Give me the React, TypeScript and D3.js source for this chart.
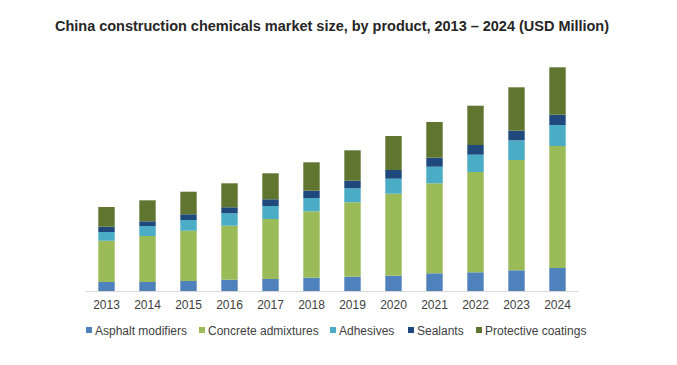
import * as d3 from 'd3';

const years = ['2013', '2014', '2015', '2016', '2017', '2018', '2019', '2020', '2021', '2022', '2023', '2024'];
const productKeys = ['asphalt', 'concrete', 'adhesives', 'sealants', 'protective'];
const productLabels = ['Asphalt modifiers', 'Concrete admixtures', 'Adhesives', 'Sealants', 'Protective coatings'];
const productColors = ['#4f81bd', '#9bbb59', '#4bacc6', '#1f497d', '#5f7530'];

// values (relative size; no y axis in the source)
const asphalt = [9, 9, 10, 11.3, 12, 13.3, 14.3, 15.3, 17.7, 18.7, 20.7, 23];
const concrete = [41.3, 46, 50.3, 54, 60, 66.4, 74.4, 82, 90, 100.3, 110.3, 122];
const adhesives = [8.7, 10, 10.7, 12.4, 13, 13.3, 14, 15, 16.6, 17.3, 19.7, 21];
const sealants = [5.3, 4.7, 5.7, 6, 6.7, 7.3, 7.6, 8.7, 9, 9.7, 9.6, 10.3];
const protective = [19.7, 21, 22.6, 24, 26, 28.4, 30.4, 34, 35.7, 39.3, 43.4, 47.4];

const W = 677;
const H = 365;
const font = 'Arial, "Liberation Sans", Helvetica, sans-serif';

export default function App() {
  const rows = years.map((y, i) => ({
    year: y,
    asphalt: asphalt[i],
    concrete: concrete[i],
    adhesives: adhesives[i],
    sealants: sealants[i],
    protective: protective[i],
  }));

  const stacked = d3.stack<any>().keys(productKeys)(rows);

  const x = d3.scaleBand().domain(years).range([86, 578]).paddingInner(0.6).paddingOuter(0.3);
  const y = d3.scaleLinear().domain([0, 224]).range([291, 67]);

  // legend x positions of each marker
  const legendX = [86, 199, 330, 408, 476];

  return (
    <svg width={W} height={H} style={{ position: 'absolute', left: 0, top: 0 }} fontFamily={font}>
      <rect width={W} height={H} fill="#fff" />
      <text x={55} y={31} fontSize={14.5} fontWeight="bold" fill="#262626" textLength={554}>
        China construction chemicals market size, by product, 2013 – 2024 (USD Million)
      </text>

      {stacked.map((s, si) => (
        <g key={s.key} fill={productColors[si]}>
          {s.map((d, i) => (
            <rect
              key={years[i]}
              x={x(years[i])}
              y={y(d[1])}
              width={x.bandwidth()}
              height={y(d[0]) - y(d[1])}
            />
          ))}
        </g>
      ))}

      <line x1={86} x2={578} y1={291.5} y2={291.5} stroke="#d9d9d9" />

      {years.map((yr) => (
        <text
          key={yr}
          x={(x(yr) ?? 0) + x.bandwidth() / 2}
          y={309}
          fontSize={12}
          textAnchor="middle"
          fill="#404040"
        >
          {yr}
        </text>
      ))}

      {productLabels.map((lab, i) => (
        <g key={lab} transform={`translate(${legendX[i]},0)`}>
          <rect x={0} y={327} width={6} height={6} fill={productColors[i]} />
          <text x={9} y={334.5} fontSize={12} fill="#404040">
            {lab}
          </text>
        </g>
      ))}
    </svg>
  );
}
